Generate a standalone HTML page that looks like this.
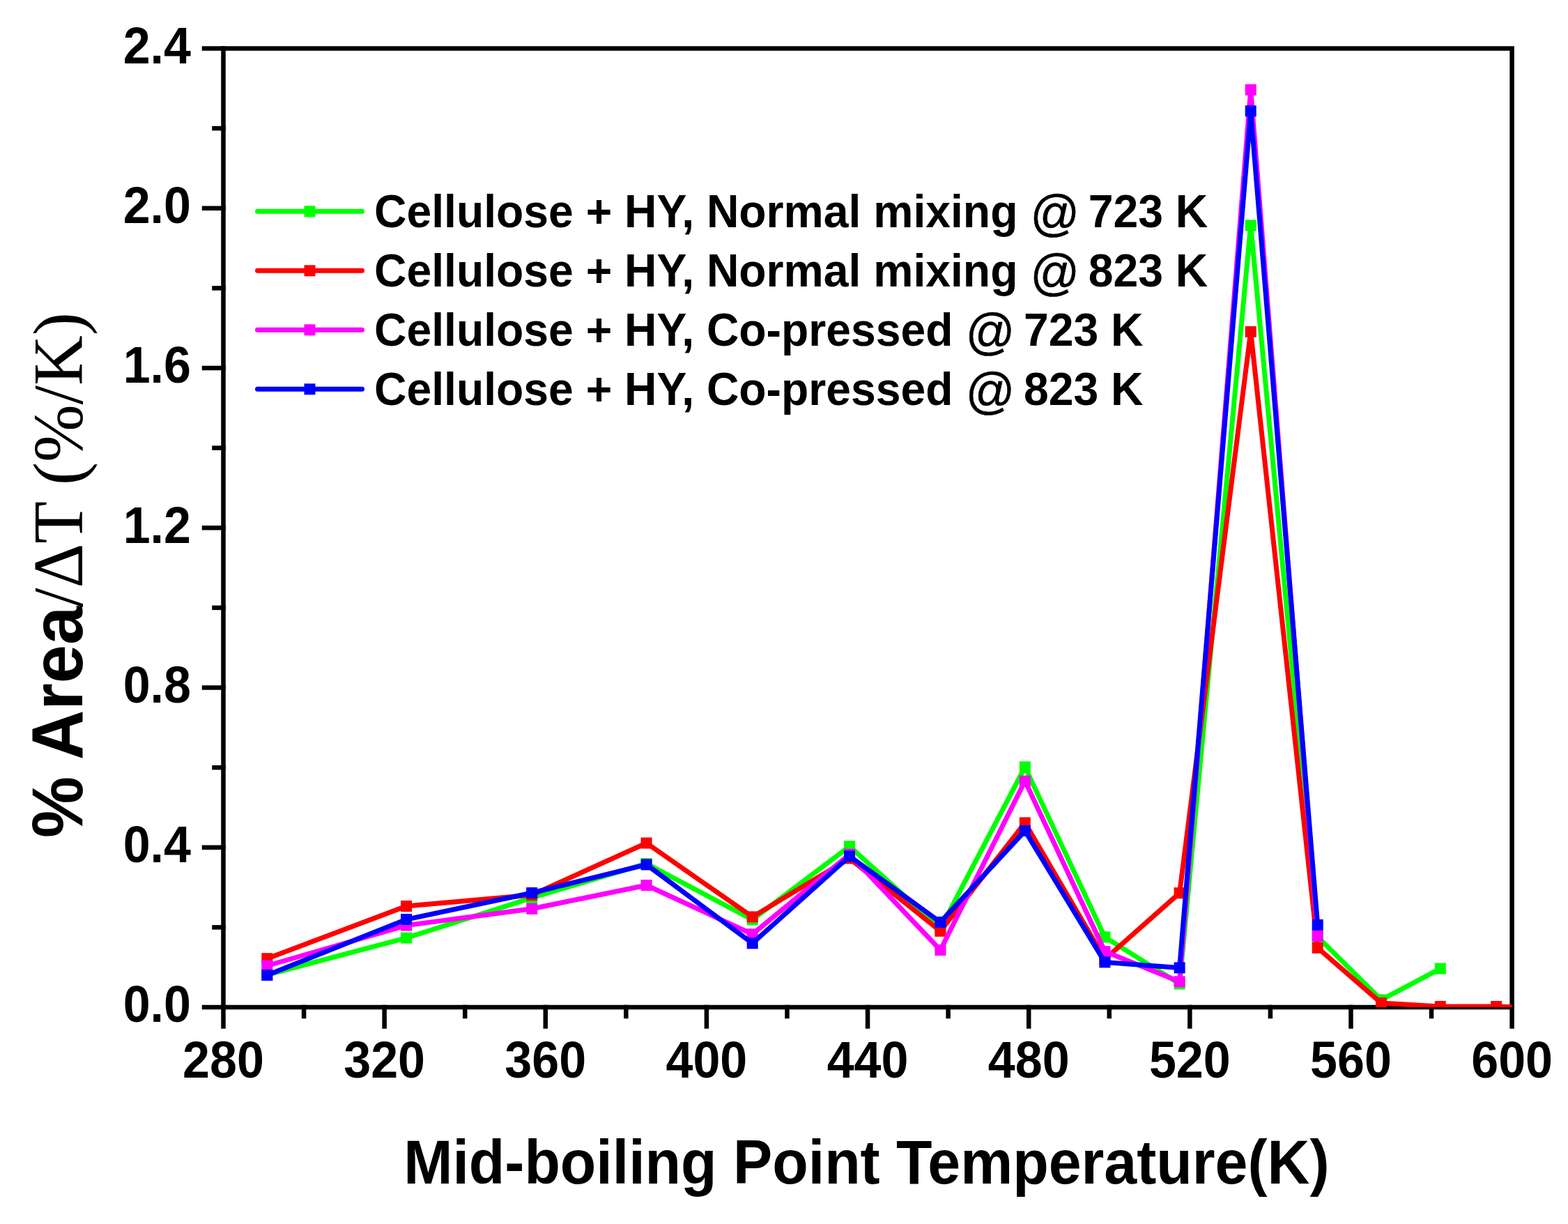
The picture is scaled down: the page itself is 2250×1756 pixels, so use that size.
<!DOCTYPE html>
<html><head><meta charset="utf-8"><title>Chart</title>
<style>html,body{margin:0;padding:0;background:#fff;}body{width:2250px;height:1756px;overflow:hidden;}svg{display:block;}</style>
</head><body>
<svg width="2250" height="1756" viewBox="0 0 2250 1756">
<rect width="2250" height="1756" fill="#fff"/>
<g stroke="#000" stroke-width="6.5" fill="none" stroke-linecap="square">
<path d="M320.5,69.5H2169.6V1445H320.5Z" stroke-linecap="butt" stroke-linejoin="miter"/>
<path d="M320.5,1445H293"/>
<path d="M320.5,1330.38H307.5"/>
<path d="M320.5,1215.75H293"/>
<path d="M320.5,1101.12H307.5"/>
<path d="M320.5,986.5H293"/>
<path d="M320.5,871.88H307.5"/>
<path d="M320.5,757.25H293"/>
<path d="M320.5,642.62H307.5"/>
<path d="M320.5,528H293"/>
<path d="M320.5,413.38H307.5"/>
<path d="M320.5,298.75H293"/>
<path d="M320.5,184.12H307.5"/>
<path d="M320.5,69.5H293"/>
<path d="M320.5,1445V1472.5"/>
<path d="M436.07,1445V1458"/>
<path d="M551.64,1445V1472.5"/>
<path d="M667.21,1445V1458"/>
<path d="M782.77,1445V1472.5"/>
<path d="M898.34,1445V1458"/>
<path d="M1013.91,1445V1472.5"/>
<path d="M1129.48,1445V1458"/>
<path d="M1245.05,1445V1472.5"/>
<path d="M1360.62,1445V1458"/>
<path d="M1476.19,1445V1472.5"/>
<path d="M1591.76,1445V1458"/>
<path d="M1707.33,1445V1472.5"/>
<path d="M1822.89,1445V1458"/>
<path d="M1938.46,1445V1472.5"/>
<path d="M2054.03,1445V1458"/>
<path d="M2169.6,1445V1472.5"/>
</g>
<defs><clipPath id="pa"><rect x="320.5" y="69.5" width="1849.1" height="1375.5"/></clipPath></defs>
<g clip-path="url(#pa)">
<polyline points="383.3,1398.5 583.1,1345.6 763.2,1288 927.6,1239 1079.7,1319.3 1219,1214.2 1349.4,1332 1470.8,1100.3 1585.4,1344.4 1692.6,1411.5 1794.7,323.4 1890.7,1344 1982,1434.4 2066.8,1389.6" fill="none" stroke="#00ff00" stroke-width="7" stroke-linejoin="miter" stroke-miterlimit="3"/>
<rect x="375.3" y="1390.5" width="16" height="16" fill="#00ff00"/>
<rect x="575.1" y="1337.6" width="16" height="16" fill="#00ff00"/>
<rect x="755.2" y="1280" width="16" height="16" fill="#00ff00"/>
<rect x="919.6" y="1231" width="16" height="16" fill="#00ff00"/>
<rect x="1071.7" y="1311.3" width="16" height="16" fill="#00ff00"/>
<rect x="1211" y="1206.2" width="16" height="16" fill="#00ff00"/>
<rect x="1341.4" y="1324" width="16" height="16" fill="#00ff00"/>
<rect x="1462.8" y="1092.3" width="16" height="16" fill="#00ff00"/>
<rect x="1577.4" y="1336.4" width="16" height="16" fill="#00ff00"/>
<rect x="1684.6" y="1403.5" width="16" height="16" fill="#00ff00"/>
<rect x="1786.7" y="315.4" width="16" height="16" fill="#00ff00"/>
<rect x="1882.7" y="1336" width="16" height="16" fill="#00ff00"/>
<rect x="1974" y="1426.4" width="16" height="16" fill="#00ff00"/>
<rect x="2058.8" y="1381.6" width="16" height="16" fill="#00ff00"/>
<polyline points="383.3,1375.2 583.1,1300 763.2,1284 927.6,1209.5 1079.7,1315.4 1219,1231.5 1349.4,1335.8 1470.8,1180.4 1585.4,1376 1692.6,1281.2 1794.7,476 1890.7,1359.8 1982,1439 2066.8,1444 2147.2,1444 2169.6,1444.5" fill="none" stroke="#ff0000" stroke-width="7" stroke-linejoin="miter" stroke-miterlimit="3"/>
<rect x="375.3" y="1367.2" width="16" height="16" fill="#ff0000"/>
<rect x="575.1" y="1292" width="16" height="16" fill="#ff0000"/>
<rect x="755.2" y="1276" width="16" height="16" fill="#ff0000"/>
<rect x="919.6" y="1201.5" width="16" height="16" fill="#ff0000"/>
<rect x="1071.7" y="1307.4" width="16" height="16" fill="#ff0000"/>
<rect x="1211" y="1223.5" width="16" height="16" fill="#ff0000"/>
<rect x="1341.4" y="1327.8" width="16" height="16" fill="#ff0000"/>
<rect x="1462.8" y="1172.4" width="16" height="16" fill="#ff0000"/>
<rect x="1577.4" y="1368" width="16" height="16" fill="#ff0000"/>
<rect x="1684.6" y="1273.2" width="16" height="16" fill="#ff0000"/>
<rect x="1786.7" y="468" width="16" height="16" fill="#ff0000"/>
<rect x="1882.7" y="1351.8" width="16" height="16" fill="#ff0000"/>
<rect x="1974" y="1431" width="16" height="16" fill="#ff0000"/>
<rect x="2058.8" y="1436" width="16" height="16" fill="#ff0000"/>
<rect x="2139.2" y="1436" width="16" height="16" fill="#ff0000"/>
<polyline points="383.3,1385.5 583.1,1327.6 763.2,1303.8 927.6,1270 1079.7,1340.2 1219,1225.7 1349.4,1363 1470.8,1120.6 1585.4,1365 1692.6,1408.3 1794.7,128.8 1890.7,1342.9" fill="none" stroke="#ff00ff" stroke-width="7" stroke-linejoin="miter" stroke-miterlimit="3"/>
<rect x="375.3" y="1377.5" width="16" height="16" fill="#ff00ff"/>
<rect x="575.1" y="1319.6" width="16" height="16" fill="#ff00ff"/>
<rect x="755.2" y="1295.8" width="16" height="16" fill="#ff00ff"/>
<rect x="919.6" y="1262" width="16" height="16" fill="#ff00ff"/>
<rect x="1071.7" y="1332.2" width="16" height="16" fill="#ff00ff"/>
<rect x="1211" y="1217.7" width="16" height="16" fill="#ff00ff"/>
<rect x="1341.4" y="1355" width="16" height="16" fill="#ff00ff"/>
<rect x="1462.8" y="1112.6" width="16" height="16" fill="#ff00ff"/>
<rect x="1577.4" y="1357" width="16" height="16" fill="#ff00ff"/>
<rect x="1684.6" y="1400.3" width="16" height="16" fill="#ff00ff"/>
<rect x="1786.7" y="120.8" width="16" height="16" fill="#ff00ff"/>
<rect x="1882.7" y="1334.9" width="16" height="16" fill="#ff00ff"/>
<polyline points="383.3,1399 583.1,1319 763.2,1281 927.6,1240.4 1079.7,1353.3 1219,1228.4 1349.4,1323 1470.8,1192 1585.4,1380.4 1692.6,1388.4 1794.7,159.3 1890.7,1326.9" fill="none" stroke="#0000ff" stroke-width="7" stroke-linejoin="miter" stroke-miterlimit="3"/>
<rect x="375.3" y="1391" width="16" height="16" fill="#0000ff"/>
<rect x="575.1" y="1311" width="16" height="16" fill="#0000ff"/>
<rect x="755.2" y="1273" width="16" height="16" fill="#0000ff"/>
<rect x="919.6" y="1232.4" width="16" height="16" fill="#0000ff"/>
<rect x="1071.7" y="1345.3" width="16" height="16" fill="#0000ff"/>
<rect x="1211" y="1220.4" width="16" height="16" fill="#0000ff"/>
<rect x="1341.4" y="1315" width="16" height="16" fill="#0000ff"/>
<rect x="1462.8" y="1184" width="16" height="16" fill="#0000ff"/>
<rect x="1577.4" y="1372.4" width="16" height="16" fill="#0000ff"/>
<rect x="1684.6" y="1380.4" width="16" height="16" fill="#0000ff"/>
<rect x="1786.7" y="151.3" width="16" height="16" fill="#0000ff"/>
<rect x="1882.7" y="1318.9" width="16" height="16" fill="#0000ff"/>
</g>
<g font-family="'Liberation Sans', Arial, sans-serif" font-weight="bold" font-size="70" text-anchor="end" fill="#000">
<text transform="translate(274,1466.3) scale(1,1.05)">0.0</text>
<text transform="translate(274,1237.05) scale(1,1.05)">0.4</text>
<text transform="translate(274,1007.8) scale(1,1.05)">0.8</text>
<text transform="translate(274,778.55) scale(1,1.05)">1.2</text>
<text transform="translate(274,549.3) scale(1,1.05)">1.6</text>
<text transform="translate(274,320.05) scale(1,1.05)">2.0</text>
<text transform="translate(274,90.8) scale(1,1.05)">2.4</text>
</g>
<g font-family="'Liberation Sans', Arial, sans-serif" font-weight="bold" font-size="70" text-anchor="middle" fill="#000">
<text transform="translate(320.5,1546) scale(1,1.05)">280</text>
<text transform="translate(551.64,1546) scale(1,1.05)">320</text>
<text transform="translate(782.77,1546) scale(1,1.05)">360</text>
<text transform="translate(1013.91,1546) scale(1,1.05)">400</text>
<text transform="translate(1245.05,1546) scale(1,1.05)">440</text>
<text transform="translate(1476.19,1546) scale(1,1.05)">480</text>
<text transform="translate(1707.33,1546) scale(1,1.05)">520</text>
<text transform="translate(1938.46,1546) scale(1,1.05)">560</text>
<text transform="translate(2169.6,1546) scale(1,1.05)">600</text>
</g>
<text transform="translate(579.2,1698.3) scale(1,1.05)" font-family="'Liberation Sans', Arial, sans-serif" font-weight="bold" font-size="84.3" fill="#000">Mid-boiling Point Temperature(K)</text>
<text transform="translate(117.5,1202) rotate(-90) scale(1,1.05)" font-size="99" fill="#000" font-family="'Liberation Sans', Arial, sans-serif" font-weight="bold">% Area</text>
<text transform="translate(117.5,871) rotate(-90) scale(1,1.025)" font-size="99.2" fill="#000" font-family="'Liberation Serif', 'Times New Roman', serif">/ΔT (%/K)</text>
<path d="M369.5,303.3H519.5" stroke="#00ff00" stroke-width="7" stroke-linecap="round"/>
<rect x="436.5" y="295.3" width="16" height="16" fill="#00ff00"/>
<text transform="translate(537,326.3) scale(1,1.05)" font-family="'Liberation Sans', Arial, sans-serif" font-weight="bold" font-size="64.3" fill="#000" xml:space="preserve">Cellulose + HY, Normal mixing <tspan font-weight="normal" font-size="69.5" dx="0.35" dy="3.5" stroke="#000" stroke-width="0.6">@</tspan><tspan dx="-5.3" dy="-3.5"> 723 K</tspan></text>
<path d="M369.5,388.3H519.5" stroke="#ff0000" stroke-width="7" stroke-linecap="round"/>
<rect x="436.5" y="380.3" width="16" height="16" fill="#ff0000"/>
<text transform="translate(537,411.3) scale(1,1.05)" font-family="'Liberation Sans', Arial, sans-serif" font-weight="bold" font-size="64.3" fill="#000" xml:space="preserve">Cellulose + HY, Normal mixing <tspan font-weight="normal" font-size="69.5" dx="0.35" dy="3.5" stroke="#000" stroke-width="0.6">@</tspan><tspan dx="-5.3" dy="-3.5"> 823 K</tspan></text>
<path d="M369.5,473.3H519.5" stroke="#ff00ff" stroke-width="7" stroke-linecap="round"/>
<rect x="436.5" y="465.3" width="16" height="16" fill="#ff00ff"/>
<text transform="translate(537,496.3) scale(1,1.05)" font-family="'Liberation Sans', Arial, sans-serif" font-weight="bold" font-size="64.3" fill="#000" xml:space="preserve">Cellulose + HY, Co-pressed <tspan font-weight="normal" font-size="69.5" dx="0.35" dy="3.5" stroke="#000" stroke-width="0.6">@</tspan><tspan dx="-5.3" dy="-3.5"> 723 K</tspan></text>
<path d="M369.5,558.3H519.5" stroke="#0000ff" stroke-width="7" stroke-linecap="round"/>
<rect x="436.5" y="550.3" width="16" height="16" fill="#0000ff"/>
<text transform="translate(537,581.3) scale(1,1.05)" font-family="'Liberation Sans', Arial, sans-serif" font-weight="bold" font-size="64.3" fill="#000" xml:space="preserve">Cellulose + HY, Co-pressed <tspan font-weight="normal" font-size="69.5" dx="0.35" dy="3.5" stroke="#000" stroke-width="0.6">@</tspan><tspan dx="-5.3" dy="-3.5"> 823 K</tspan></text>
</svg>
</body></html>
